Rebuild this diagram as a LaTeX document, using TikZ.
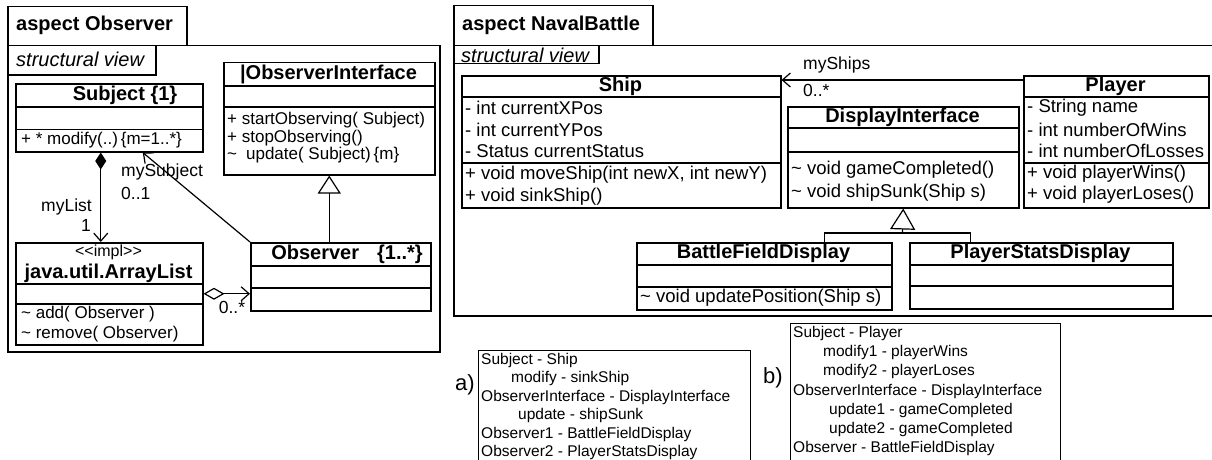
\documentclass[tikz,border=0pt]{standalone}
\usepackage{fontspec}
\setmainfont{Liberation Sans}
\usetikzlibrary{arrows.meta, positioning, calc}

\begin{document}
\begin{tikzpicture}[x=1pt, y=-1pt,
  box/.style={draw, line width=1.5pt, inner sep=0pt, anchor=north west},
  sep/.style={line width=1.5pt},
  ttl/.style={font=\bfseries\fontsize{20}{24}\selectfont, inner sep=0pt},
  vtxt/.style={font=\itshape\fontsize{20}{24}\selectfont, inner sep=0pt, anchor=west},
  ltxt/.style={font=\fontsize{17}{20}\selectfont, anchor=west, inner sep=0pt},
  rtxt/.style={font=\fontsize{18.5}{22}\selectfont, anchor=west, inner sep=0pt},
  lbl/.style={font=\fontsize{17.5}{20}\selectfont, inner sep=0pt},
  note/.style={font=\fontsize{15.5}{18.5}\selectfont, align=left, anchor=north west, inner sep=0pt},
  link/.style={line width=1.2pt},
  barb/.tip={Straight Barb[length=8pt,width=14pt]}
]
\useasboundingbox (0,0) rectangle (1212,460);
\clip (0,0) rectangle (1212,460);

% ---- aspect Observer
\node[box, minimum width=179, minimum height=39] (obstab) at (7,6) {};
\node[ttl, anchor=west] (obsname) at (16,25) {aspect Observer};
\node[box, minimum width=432, minimum height=306] (obsframe) at (7,45) {};
\node[box, minimum width=148, minimum height=29] (obsview) at (7,45) {};
\node[vtxt] (obsviewtxt) at (16,59) {structural view};

\node[box, minimum width=187, minimum height=68] (subject) at (15,83) {};
\draw[sep] ([yshift=-24pt]subject.north west) -- ([yshift=-24pt]subject.north east);
\draw[sep] ([yshift=23pt]subject.south west) -- ([yshift=23pt]subject.south east);
\node[ttl] (subjectname) at (125,95) {Subject \{1\}};
\node[ltxt] (modify) at (21,140) {+ * modify(..)\,\{m=1..*\}};

\node[box, minimum width=211, minimum height=112] (oiface) at (223,62) {};
\draw[sep] ([yshift=-24pt]oiface.north west) -- ([yshift=-24pt]oiface.north east);
\draw[sep] ([yshift=-45pt]oiface.north west) -- ([yshift=-45pt]oiface.north east);
\node[ttl] (oifacename) at (328.5,74) {|ObserverInterface};
\node[ltxt] (startobs) at (227,120) {+ startObserving( Subject)};
\node[ltxt] (stopobs) at (227,138) {+ stopObserving()};
\node[ltxt] (update) at (227,155) {\textasciitilde\hspace{9pt}update( Subject)\,\{m\}};

\node[box, minimum width=187, minimum height=102] (arraylist) at (15,242) {};
\draw[sep] ([yshift=-42pt]arraylist.north west) -- ([yshift=-42pt]arraylist.north east);
\draw[sep] ([yshift=-62pt]arraylist.north west) -- ([yshift=-62pt]arraylist.north east);
\node[font=\fontsize{16}{19}\selectfont, inner sep=0pt] (impl) at (108.5,252) {<\kern0pt<impl>\kern0pt>};
\node[ttl] (arraylistname) at (108.5,273) {java.util.ArrayList};
\node[ltxt] (add) at (21,314) {\textasciitilde\ add( Observer )};
\node[ltxt] (remove) at (21,334) {\textasciitilde\ remove( Observer)};

\node[box, minimum width=180, minimum height=68] (observer) at (250,242) {};
\draw[sep] ([yshift=-24pt]observer.north west) -- ([yshift=-24pt]observer.north east);
\draw[sep] ([yshift=-46pt]observer.north west) -- ([yshift=-46pt]observer.north east);
\node[ttl] (observername) at (347,254) {Observer\hspace{18pt}\{1..*\}};

\draw[link, {Diamond[length=17pt,width=11pt]}-barb] ([xshift=-8.5pt]subject.south) -- ([xshift=-8.5pt]arraylist.north);
\node[lbl, anchor=east] (mylist) at (92,207) {myList};
\node[lbl, anchor=east] (mylistm) at (91,225) {1};
\draw[link, -barb] (observer.north west) -- ([xshift=33.5pt]subject.south);
\node[lbl, anchor=west] (mysubject) at (121,172) {mySubject};
\node[lbl, anchor=west] (mysubjectm) at (121,193) {0..1};
\draw[link, {Diamond[open,length=21pt,width=12pt]}-barb] (arraylist.east) -- (arraylist.east -| observer.west);
\node[lbl] (observerm) at (232,307) {0..*};
\draw[link, -{Triangle[open,length=18pt,width=23pt]}] (observer.north -| oiface.south) -- (oiface.south);

% ---- aspect NavalBattle
\node[box, minimum width=199, minimum height=40] (navtab) at (453,5) {};
\node[ttl, anchor=west] (navname) at (462,25) {aspect NavalBattle};
\node[box, minimum width=800, minimum height=270] (navframe) at (453,45) {};
\node[box, minimum width=145, minimum height=18] (navview) at (453,45) {};
\node[vtxt] (navviewtxt) at (461,55) {structural view};

\node[box, minimum width=319, minimum height=132] (ship) at (461,75) {};
\draw[sep] ([yshift=-22pt]ship.north west) -- ([yshift=-22pt]ship.north east);
\draw[sep] ([yshift=-88pt]ship.north west) -- ([yshift=-88pt]ship.north east);
\node[ttl] (shipname) at (620.5,86) {Ship};
\node[rtxt] (xpos) at (465,108) {- int currentXPos};
\node[rtxt] (ypos) at (465,130) {- int currentYPos};
\node[rtxt] (status) at (465,151) {- Status currentStatus};
\node[rtxt] (moveship) at (465,175) {+ void moveShip(int newX, int newY)};
\node[rtxt] (sinkship) at (465,197) {+ void sinkShip()};

\node[box, minimum width=185, minimum height=132] (player) at (1023,75) {};
\draw[sep] ([yshift=-22pt]player.north west) -- ([yshift=-22pt]player.north east);
\draw[sep] ([yshift=-88pt]player.north west) -- ([yshift=-88pt]player.north east);
\node[ttl] (playername) at (1115.5,86) {Player};
\node[rtxt] (pname) at (1027,108) {- String name};
\node[rtxt] (wins) at (1027,130) {- int numberOfWins};
\node[rtxt] (losses) at (1027,151) {- int numberOfLosses};
\node[rtxt] (playerwins) at (1027,174) {+ void playerWins()};
\node[rtxt] (playerloses) at (1027,195) {+ void playerLoses()};

\draw[link, -barb] ([yshift=-5pt]player.north west) -- ([yshift=-5pt]ship.north east);
\node[lbl, anchor=west] (myships) at (803,65) {myShips};
\node[lbl, anchor=west] (myshipsm) at (803,90) {0..*};

\node[box, minimum width=231, minimum height=101] (dispif) at (787,106) {};
\draw[sep] ([yshift=-22pt]dispif.north west) -- ([yshift=-22pt]dispif.north east);
\draw[sep] ([yshift=-46pt]dispif.north west) -- ([yshift=-46pt]dispif.north east);
\node[ttl] (dispifname) at (902.5,117) {DisplayInterface};
\node[rtxt] (gamecompleted) at (791,170) {\textasciitilde\ void gameCompleted()};
\node[rtxt] (shipsunk) at (791,193) {\textasciitilde\ void shipSunk(Ship s)};

\node[box, minimum width=255, minimum height=67] (bfd) at (636,242) {};
\draw[sep] ([yshift=-23pt]bfd.north west) -- ([yshift=-23pt]bfd.north east);
\draw[sep] ([yshift=-45pt]bfd.north west) -- ([yshift=-45pt]bfd.north east);
\node[ttl] (bfdname) at (763.5,253) {BattleFieldDisplay};
\node[rtxt] (updatepos) at (640,298) {\textasciitilde\ void updatePosition(Ship s)};

\node[box, minimum width=263, minimum height=66] (psd) at (909,242) {};
\draw[sep] ([yshift=-23pt]psd.north west) -- ([yshift=-23pt]psd.north east);
\draw[sep] ([yshift=-44pt]psd.north west) -- ([yshift=-44pt]psd.north east);
\node[ttl] (psdname) at (1040.5,253) {PlayerStatsDisplay};

\coordinate (fork) at (902.5,233);
\draw[link] ([xshift=60.5pt]bfd.north) |- (fork) -| ([xshift=-70.5pt]psd.north);
\draw[link, -{Triangle[open,length=21pt,width=25pt]}] (fork) -- (dispif.south);

% ---- mappings
\node[box, line width=1.2pt, minimum width=272, minimum height=130] (mapa) at (478,350) {};
\node[note] (mapatxt) at (481,353) {Subject - Ship\\
  \hspace*{30pt}modify - sinkShip\\
  ObserverInterface - DisplayInterface\\
  \hspace*{37pt}update - shipSunk\\
  Observer1 - BattleFieldDisplay\\
  Observer2 - PlayerStatsDisplay};
\node[font=\fontsize{22}{26}\selectfont, inner sep=0pt] (taga) at (465,385) {a)};

\node[box, line width=1.2pt, minimum width=270, minimum height=150] (mapb) at (790,323) {};
\node[note, font=\fontsize{15.5}{19.2}\selectfont] (mapbtxt) at (793,326) {Subject - Player\\
  \hspace*{30pt}modify1 - playerWins\\
  \hspace*{30pt}modify2 - playerLoses\\
  ObserverInterface - DisplayInterface\\
  \hspace*{36pt}update1 - gameCompleted\\
  \hspace*{36pt}update2 - gameCompleted\\
  Observer - BattleFieldDisplay};
\node[font=\fontsize{22}{26}\selectfont, inner sep=0pt] (tagb) at (773,378) {b)};
\end{tikzpicture}
\end{document}
